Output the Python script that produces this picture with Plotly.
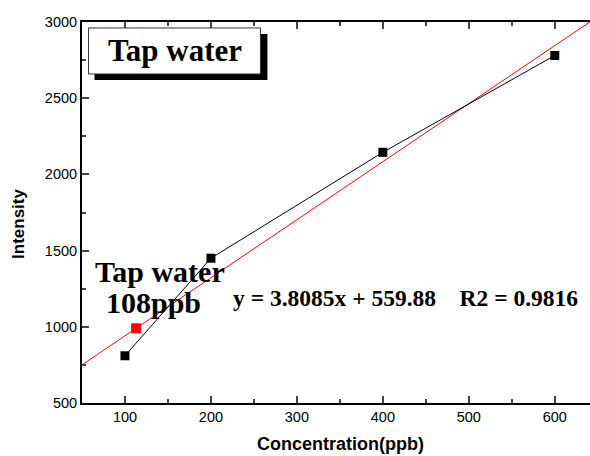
import plotly.graph_objects as go

conc = [100, 200, 400, 600]
intensity = [810, 1450, 2145, 2780]
sample_conc = [113]
sample_int = [990]
slope = 3.8085
intercept = 559.88
fit_x = [50, 641]
fit_y = [slope * v + intercept for v in fit_x]
x_ticks = [100, 200, 300, 400, 500, 600]
y_ticks = [500, 1000, 1500, 2000, 2500, 3000]

fig = go.Figure()
fig.add_trace(go.Scatter(x=fit_x, y=fit_y, mode="lines",
                         line=dict(color="#ff0000", width=1), showlegend=False))
fig.add_trace(go.Scatter(x=conc, y=intensity, mode="lines+markers",
                         line=dict(color="black", width=1),
                         marker=dict(symbol="square", size=9, color="black"),
                         showlegend=False))
fig.add_trace(go.Scatter(x=sample_conc, y=sample_int, mode="markers",
                         marker=dict(symbol="square", size=10, color="#ff0000"),
                         showlegend=False))

serif = "Liberation Serif, Times New Roman, serif"
sans = "Liberation Sans, Arial, sans-serif"

# shadowed title box
fig.add_shape(type="rect", xref="x", yref="y", x0=64.5, x1=265.7, y0=2619, y1=2921,
              fillcolor="black", line=dict(width=0))
fig.add_shape(type="rect", xref="x", yref="y", x0=57.6, x1=257.6, y0=2659, y1=2961,
              fillcolor="white", line=dict(color="#333333", width=1))
fig.add_annotation(x=158, y=2810, xref="x", yref="y", text="<b>Tap water</b>",
                   showarrow=False, font=dict(family=serif, size=31, color="black"))
fig.add_annotation(x=140.6, y=1360, xref="x", yref="y",
                   text="<b>Tap water</b>", showarrow=False,
                   font=dict(family=serif, size=30, color="black"))
fig.add_annotation(x=133, y=1160, xref="x", yref="y",
                   text="<b>108ppb</b>", showarrow=False,
                   font=dict(family=serif, size=30, color="black"))
fig.add_annotation(x=426.7, y=1189, xref="x", yref="y",
                   text="<b>y = 3.8085x + 559.88&nbsp;&nbsp;&nbsp;&nbsp;R2 = 0.9816</b>",
                   showarrow=False, font=dict(family=serif, size=23.5, color="black"))

# axis titles
fig.add_annotation(x=0.508, y=-0.1076, xref="paper", yref="paper",
                   xanchor="center", yanchor="middle",
                   text="<b>Concentration(ppb)</b>", showarrow=False,
                   font=dict(family=sans, size=18, color="black"))
fig.add_annotation(x=-0.124, y=0.47, xref="paper", yref="paper",
                   xanchor="center", yanchor="middle",
                   text="<b>Intensity</b>", showarrow=False, textangle=-90,
                   font=dict(family=sans, size=17, color="black"))

fig.update_layout(
    width=590, height=456,
    margin=dict(l=82, r=0, t=22, b=53),
    plot_bgcolor="white", paper_bgcolor="white",
    font=dict(family=sans, size=14.5, color="black"),
    xaxis=dict(range=[50, 641], tickvals=x_ticks, ticks="inside", ticklen=7, tickwidth=1.5,
               minor=dict(dtick=50, tick0=50, ticks="inside", ticklen=4, tickwidth=1.5),
               showline=True, linecolor="black", linewidth=2, mirror="ticks",
               showgrid=False, zeroline=False, automargin=False),
    yaxis=dict(range=[500, 3000], tickvals=y_ticks, ticks="inside", ticklen=7, tickwidth=1.5,
               minor=dict(dtick=250, tick0=500, ticks="inside", ticklen=4, tickwidth=1.5),
               showline=True, linecolor="black", linewidth=2,
               showgrid=False, zeroline=False, automargin=False),
)

fig.write_html("out.html", config={"displayModeBar": False},
               post_script="document.body.style.margin='0px';")
